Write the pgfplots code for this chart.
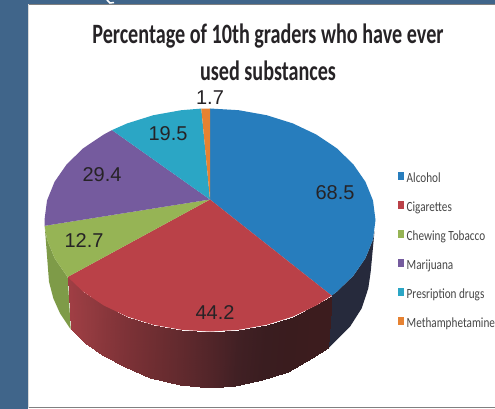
\documentclass[border=0pt]{standalone}
\usepackage{pgfplots}
\usepackage{fontspec}
\pgfplotsset{compat=1.18}
\setmainfont{Liberation Sans}
\newfontfamily\carlito{Carlito}
\definecolor{cband}{RGB}{64,101,138}
\definecolor{cblue}{RGB}{39,125,189}
\definecolor{cred}{RGB}{186,65,72}
\definecolor{cgreen}{RGB}{150,180,85}
\definecolor{cpurple}{RGB}{117,91,158}
\definecolor{ccyan}{RGB}{43,166,197}
\definecolor{corange}{RGB}{230,130,50}
\definecolor{cgreenside}{RGB}{126,155,72}
\definecolor{cnavy}{RGB}{38,42,60}
\definecolor{ctext}{RGB}{38,35,38}
\definecolor{clegend}{RGB}{70,70,70}
\begin{document}
\begin{tikzpicture}
\begin{axis}[
  scale only axis, width=495pt, height=409pt,
  xmin=0, xmax=495, ymin=0, ymax=409, y dir=reverse,
  hide axis,
  colormap={redside}{rgb255=(160,62,68) rgb255=(150,60,65) rgb255=(138,55,60) rgb255=(125,50,55)
    rgb255=(112,46,50) rgb255=(98,42,46) rgb255=(82,37,41) rgb255=(65,32,36)
    rgb255=(58,29,32) rgb255=(58,28,30) rgb255=(60,28,30) rgb255=(60,28,30)},
  title={\scalebox{0.72}[1]{Percentage of 10th graders who have ever}\\[7pt]\scalebox{0.72}[1]{used substances}},
  title style={at={(axis cs:268,58)}, anchor=center, align=center, inner sep=0pt,
    font=\carlito\bfseries\fontsize{28}{30}\selectfont, text=ctext},
  legend style={at={(axis cs:397.5,170)}, anchor=north west, draw=none, fill=none, inner sep=0pt,
    overlay, /tikz/row sep=12pt, nodes={text height=10pt, text depth=3pt},
    font=\carlito\fontsize{14}{16}\selectfont, text=clegend},
  legend cell align=left,
  legend image code/.code={\fill[#1] (0pt,-1.5pt) rectangle (6.5pt,7pt);},
]
% page and slide background
\addplot[fill=white, draw=none, forget plot] coordinates {(0,0) (495,0) (495,409) (0,409)};
\addplot[fill=cband, draw=none, forget plot] coordinates {(0,0) (28,0) (28,409) (0,409)};
\addplot[fill=cband, draw=none, forget plot] coordinates {(0,0) (495,0) (495,4) (0,4)};
\addplot[gray, line width=1pt, forget plot] coordinates {(28,4.5) (495,4.5)};
\addplot[gray, line width=1pt, forget plot] coordinates {(28,407.5) (495,407.5)};
\addplot[black!15, line width=1pt, forget plot] coordinates {(28.5,4.5) (28.5,407.5)};
\addplot[white, line width=1.5pt, forget plot] coordinates {(107,0) (110,3) (114,2.5)};

% side walls
\addplot[fill=cgreenside, draw=none, forget plot] coordinates {
  (44.7,225.8) (47.0,239.4) (54.5,258.1) (66.7,275.8) (67.7,276.9) (70.7,329.3)
  (60,313.3) (53.3,298.3) (49,281.7)};
\addplot[fill=cnavy, draw=none, forget plot] coordinates {
  (331.7,295.6) (336.8,291.7) (353.3,275.8) (365.5,258.1) (373.0,239.4) (374.5,231)
  (370.7,271.7) (368.3,288.3) (361.7,308.3) (350,326.7) (328.3,348.3)};
\addplot[surf, shader=interp, mesh/cols=2, point meta=explicit, point meta min=0, point meta max=11, forget plot]
  table[x=x, y=y, meta=c] {
x y c
67.7 276.9 0
70.7 329.3 0
83.2 291.7 1
85 343.3 1
103.6 305.4 2
101.7 355 2
127.2 316.6 3
125 367 3
153.4 324.8 4
150 378 4
181.3 329.8 5
180 385 5
210 331.5 6
210 387.7 6
238.7 329.8 7
235 385.5 7
266.6 324.8 8
262 380 8
292.8 316.6 9
288 372 9
316.4 305.4 10
312 358 10
331.7 295.6 11
328.3 348.3 11
};

% top of the pie: 68.5, 44.2, 12.7, 29.4, 19.5, 1.7
\addplot[fill=cblue, draw=none] coordinates {(210,199.5)
  (210,108.5) (238.7,110.2) (266.6,115.2) (292.8,123.4) (316.4,134.6) (336.8,148.3)
  (353.3,164.3) (365.5,181.9) (373.0,200.6) (375.5,220) (373.0,239.4) (365.5,258.1)
  (353.3,275.8) (336.8,291.7) (331.7,295.6)};
\addlegendentry{\hspace{0.5pt}\scalebox{0.8}[1]{Alcohol}}
\addplot[fill=cred, draw=none] coordinates {(210,199.5)
  (331.7,295.6) (316.4,305.4) (292.8,316.6) (266.6,324.8) (238.7,329.8) (210,331.5)
  (181.3,329.8) (153.4,324.8) (127.2,316.6) (103.6,305.4) (83.2,291.7) (67.7,276.9)};
\addlegendentry{\hspace{0.5pt}\scalebox{0.8}[1]{Cigarettes}}
\addplot[fill=cgreen, draw=none] coordinates {(210,199.5)
  (67.7,276.9) (66.7,275.8) (54.5,258.1) (47.0,239.4) (44.7,225.8)};
\addlegendentry{\hspace{0.5pt}\scalebox{0.8}[1]{Chewing Tobacco}}
\addplot[fill=cpurple, draw=none] coordinates {(210,199.5)
  (44.7,225.8) (44.5,220) (47.0,200.6) (54.5,181.9) (66.7,164.3) (83.2,148.3)
  (103.6,134.6) (112,130.1)};
\addlegendentry{\hspace{0.5pt}\scalebox{0.8}[1]{Marijuana}}
\addplot[fill=ccyan, draw=none] coordinates {(210,199.5)
  (112,130.1) (127.2,123.4) (153.4,115.2) (181.3,110.2) (201.3,108.6)};
\addlegendentry{\hspace{0.5pt}\scalebox{0.8}[1]{Presription drugs}}
\addplot[fill=corange, draw=none] coordinates {(210,199.5) (201.3,108.6) (210,108.5)};
\addlegendentry{\hspace{0.5pt}\scalebox{0.8}[1]{Methamphetamine}}

% data labels
\node[text=ctext, font=\fontsize{20}{22}\selectfont] at (axis cs:335,193) {68.5};
\node[text=ctext, font=\fontsize{20}{22}\selectfont] at (axis cs:215,313) {44.2};
\node[text=ctext, font=\fontsize{20}{22}\selectfont] at (axis cs:84,241) {12.7};
\node[text=ctext, font=\fontsize{20}{22}\selectfont] at (axis cs:102,175) {29.4};
\node[text=ctext, font=\fontsize{20}{22}\selectfont] at (axis cs:168,134) {19.5};
\node[text=ctext, font=\fontsize{20}{22}\selectfont] at (axis cs:210,98) {1.7};
\end{axis}
\end{tikzpicture}
\end{document}
